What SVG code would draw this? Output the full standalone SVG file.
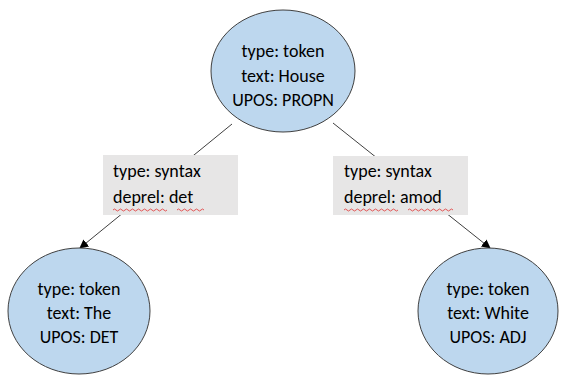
<svg xmlns="http://www.w3.org/2000/svg" width="561" height="376" viewBox="0 0 561 376">
  <defs>
    <marker id="arrow" viewBox="0 0 10 10" refX="9" refY="5" markerWidth="9" markerHeight="9" markerUnits="userSpaceOnUse" orient="auto">
      <path d="M0,0 L10,5 L0,10 Z" fill="#000"/>
    </marker>
    <style>
      .node ellipse { fill: #bdd7ee; stroke: #404040; stroke-width: 1; }
      .label rect { fill: #e7e6e6; }
      text { font-family: Carlito, Lato, "Liberation Sans", Arial, sans-serif; font-size: 18px; fill: #000; }
      .c { text-anchor: middle; }
      .edge { stroke: #404040; stroke-width: 1; fill: none; }
      .squiggle { stroke: #e03030; stroke-width: 0.8; fill: none; }
    </style>
  </defs>
  <rect width="561" height="376" fill="#fff"/>

  <!-- connectors -->
  <g id="connectors">
    <line class="edge" x1="232" y1="124" x2="80" y2="248" marker-end="url(#arrow)"/>
    <line class="edge" x1="333" y1="123" x2="490" y2="248" marker-end="url(#arrow)"/>
  </g>

  <!-- edge labels -->
  <g id="label-det" class="label">
    <rect x="103" y="155" width="135" height="60"/>
    <text x="113" y="177">type: syntax</text>
    <text x="113" y="203">deprel: det</text>
    <path class="squiggle" d="M113,210 q1.5,-2 3,0 t3,0 t3,0 t3,0 t3,0 t3,0 t3,0 t3,0 t3,0 t3,0 t3,0 t3,0 t3,0 t3,0 t3,0 t3,0 t3,0 t3,0"/>
    <path class="squiggle" d="M177,210 q1.5,-2 3,0 t3,0 t3,0 t3,0 t3,0 t3,0 t3,0 t3,0 t3,0"/>
  </g>
  <g id="label-amod" class="label">
    <rect x="333" y="156" width="135" height="59"/>
    <text x="344" y="177">type: syntax</text>
    <text x="344" y="203">deprel: amod</text>
    <path class="squiggle" d="M344,210 q1.5,-2 3,0 t3,0 t3,0 t3,0 t3,0 t3,0 t3,0 t3,0 t3,0 t3,0 t3,0 t3,0 t3,0 t3,0 t3,0 t3,0 t3,0 t3,0"/>
    <path class="squiggle" d="M408,210 q1.5,-2 3,0 t3,0 t3,0 t3,0 t3,0 t3,0 t3,0 t3,0 t3,0 t3,0 t3,0 t3,0 t3,0 t3,0 t3,0"/>
  </g>

  <!-- nodes -->
  <g id="node-house" class="node">
    <ellipse cx="283" cy="71" rx="72" ry="61"/>
    <text class="c" x="283" y="57">type: token</text>
    <text class="c" x="283" y="82">text: House</text>
    <text class="c" x="283" y="106">UPOS: PROPN</text>
  </g>
  <g id="node-the" class="node">
    <ellipse cx="79" cy="311" rx="71" ry="63"/>
    <text class="c" x="79" y="295">type: token</text>
    <text class="c" x="79" y="319">text: The</text>
    <text class="c" x="79" y="343">UPOS: DET</text>
  </g>
  <g id="node-white" class="node">
    <ellipse cx="488" cy="311" rx="70" ry="63"/>
    <text class="c" x="488" y="295">type: token</text>
    <text class="c" x="488" y="319">text: White</text>
    <text class="c" x="488" y="343">UPOS: ADJ</text>
  </g>
</svg>
